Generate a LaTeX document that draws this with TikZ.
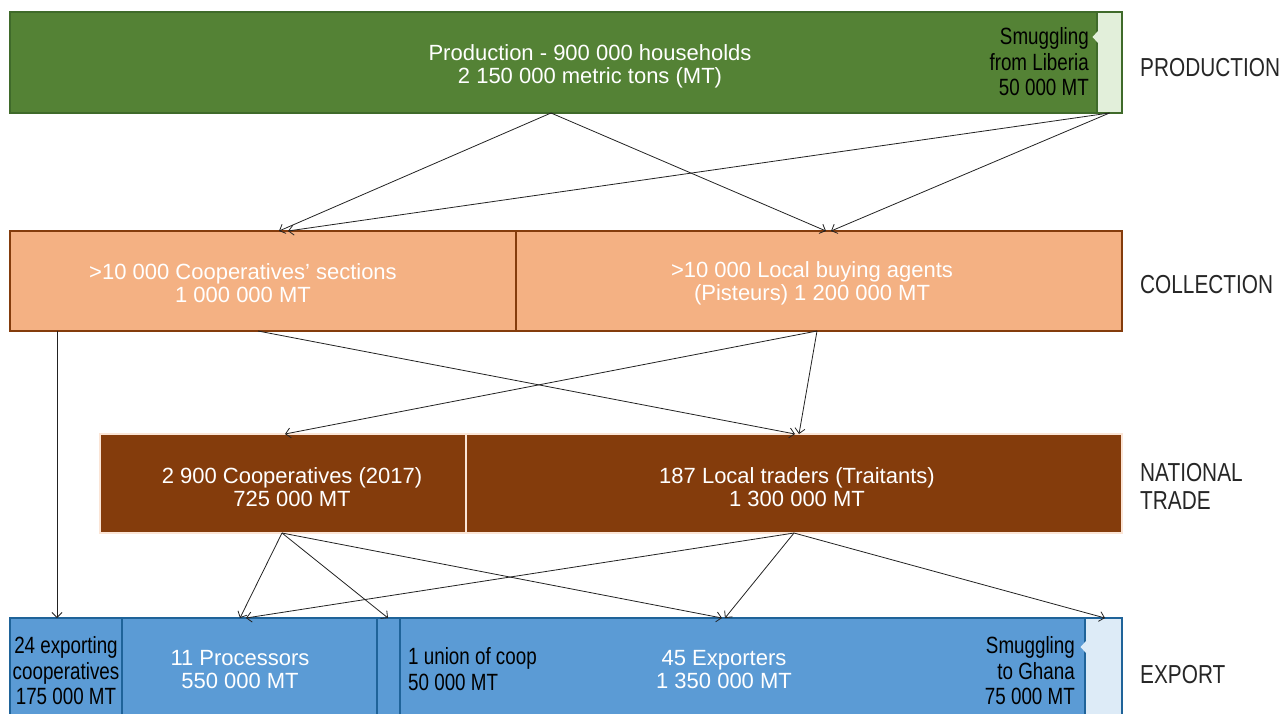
\documentclass[tikz,border=0pt]{standalone}
\usepackage{fontspec}
\setmainfont{Liberation Sans}
\newfontfamily\nar{Liberation Sans}[FakeStretch=0.8]
\usetikzlibrary{arrows.meta}
\definecolor{prodfill}{HTML}{548235}
\definecolor{prodline}{HTML}{3F6A2A}
\definecolor{libfill}{HTML}{E2EFDA}
\definecolor{colfill}{HTML}{F4B183}
\definecolor{colline}{HTML}{843C0C}
\definecolor{natfill}{HTML}{843C0C}
\definecolor{natline}{HTML}{FBE5D6}
\definecolor{expfill}{HTML}{5B9BD5}
\definecolor{expline}{HTML}{1F6399}
\definecolor{ghfill}{HTML}{DDEBF7}
\definecolor{lbl}{HTML}{262626}
\definecolor{arr}{HTML}{222222}
\begin{document}
\begin{tikzpicture}[x=1pt,y=-1pt,
  blk/.style={rectangle, inner sep=0pt, outer sep=0pt},
  prodbox/.style={blk, draw=prodline, line width=1.5pt, fill=prodfill},
  libbox/.style={blk, draw=prodline, line width=1.5pt, fill=libfill},
  colbox/.style={blk, draw=colline, line width=2pt, fill=colfill},
  natbox/.style={blk, draw=natline, line width=2pt, fill=natfill},
  expbox/.style={blk, draw=expline, line width=2pt, fill=expfill},
  ghbox/.style={blk, draw=expline, line width=2pt, fill=ghfill},
  wtxt/.style={text=white, align=center, font=\fontsize{22}{23}\selectfont, inner sep=0pt},
  btxt/.style={text=black, inner sep=0pt, font=\nar\fontsize{23.5}{25.5}\selectfont},
  side/.style={text=lbl, align=left, anchor=west, inner sep=0pt, font=\nar\fontsize{26}{28}\selectfont},
  link/.style={draw=arr, line width=0.8pt, -{Straight Barb[length=5pt,width=10pt]}}
]
\useasboundingbox (0,0) rectangle (1285,713);

% PRODUCTION
\node[prodbox, minimum width=1087pt, minimum height=101pt] (prod) at (553.5,62.5) {};
\node[libbox, minimum width=25pt, minimum height=101pt] (lib) at (1109.5,62.5) {};
\fill[libfill] (1098,31) -- (1092.5,37) -- (1098,43) -- cycle;
\node[wtxt] (prodtxt) at (590,66) {Production - 900 000 households\\2 150 000 metric tons (MT)};
\node[btxt, align=right, anchor=east] (libtxt) at (1089,62) {Smuggling\\from Liberia\\50 000 MT};

% COLLECTION
\node[colbox, minimum width=506pt, minimum height=100pt] (col1) at (263,281) {};
\node[colbox, minimum width=606pt, minimum height=100pt] (col2) at (819,281) {};
\node[wtxt] (col1txt) at (243,283) {>10 000 Cooperatives’ sections\\1 000 000 MT};
\node[wtxt] (col2txt) at (812,283) {>10 000 Local buying agents\\(Pisteurs) 1 200 000 MT};

% NATIONAL TRADE
\node[natbox, minimum width=366pt, minimum height=99pt] (nat1) at (283,483.5) {};
\node[natbox, minimum width=656pt, minimum height=99pt] (nat2) at (794,483.5) {};
\node[wtxt] (nat1txt) at (292,487) {2 900 Cooperatives (2017)\\725 000 MT};
\node[wtxt] (nat2txt) at (797,487) {187 Local traders (Traitants)\\1 300 000 MT};

% EXPORT
\node[expbox, minimum width=112pt, minimum height=122pt] (ex1) at (66,679) {};
\node[expbox, minimum width=255pt, minimum height=122pt] (ex2) at (249.5,679) {};
\node[expbox, minimum width=23pt, minimum height=122pt] (ex3) at (388.5,679) {};
\node[expbox, minimum width=685pt, minimum height=122pt] (ex4) at (742.5,679) {};
\node[ghbox, minimum width=37pt, minimum height=122pt] (ex5) at (1103.5,679) {};
\fill[ghfill] (1086,641) -- (1080.5,647) -- (1086,653) -- cycle;
\node[btxt, align=center] (ex1txt) at (66,671) {24 exporting\\cooperatives\\175 000 MT};
\node[wtxt] (ex2txt) at (240,670) {11 Processors\\550 000 MT};
\node[btxt, align=left, anchor=west] (ex3txt) at (408,669) {1 union of coop\\50 000 MT};
\node[wtxt] (ex4txt) at (724,670) {45 Exporters\\1 350 000 MT};
\node[btxt, align=right, anchor=east] (ex5txt) at (1075,671) {Smuggling\\to Ghana\\75 000 MT};

% side labels
\node[side] (lprod) at (1140,68) {PRODUCTION};
\node[side] (lcol) at (1140,285) {COLLECTION};
\node[side] (lnat) at (1140,486) {NATIONAL\\TRADE};
\node[side] (lexp) at (1140,675) {EXPORT};

% connection points
\coordinate (ps) at (551,113);
\coordinate (c1a) at (279,231);
\coordinate (c1b) at (288,231);
\coordinate (c2a) at (826,231);
\coordinate (c2b) at (831,231);
\coordinate (c1s) at (258,331);
\coordinate (c2s) at (817,331);
\coordinate (c1l) at (57,331);
\coordinate (n1t) at (285,434);
\coordinate (n2a) at (795,434);
\coordinate (n2b) at (799,434);
\coordinate (n1s) at (282,533);
\coordinate (n2s) at (794,533);
\coordinate (e1t) at (57,618);
\coordinate (e2a) at (240,618);
\coordinate (e2b) at (246,618);
\coordinate (e3t) at (388,618);
\coordinate (e4a) at (722,618);
\coordinate (e4b) at (725,618);
\coordinate (e5t) at (1105,618);

\draw[link] (ps) -- (c1a);
\draw[link] (ps) -- (c2a);
\draw[link] (lib.south) -- (c1b);
\draw[link] (lib.south) -- (c2b);
\draw[link] (c1s) -- (n2a);
\draw[link] (c2s) -- (n1t);
\draw[link] (c2s) -- (n2b);
\draw[link] (c1l) -- (e1t);
\draw[link] (n1s) -- (e2a);
\draw[link] (n1s) -- (e3t);
\draw[link] (n1s) -- (e4a);
\draw[link] (n2s) -- (e2b);
\draw[link] (n2s) -- (e4b);
\draw[link] (n2s) -- (e5t);
\end{tikzpicture}
\end{document}
